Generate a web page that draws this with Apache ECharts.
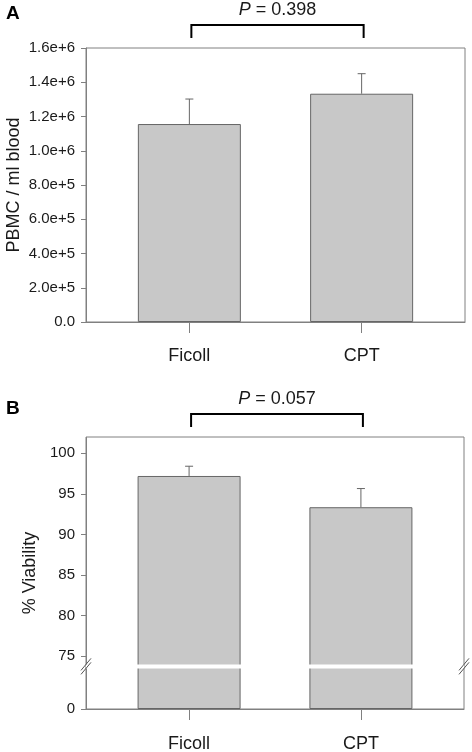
<!DOCTYPE html>
<html><head><meta charset="utf-8">
<script src="https://cdn.jsdelivr.net/npm/echarts@6/dist/echarts.min.js"></script>
<style>html,body{margin:0;padding:0;background:#fff}#c{width:472px;height:752px}</style>
</head><body><div id="c"></div>
<script>
const categories = ['Ficoll', 'CPT'];
const categoryPos = [1, 2];
const pbmcMean = [1156000, 1333000];
const pbmcSE = [146000, 117000];
const viabilityMean = [97.2, 93.35];
const viabilitySE = [1.2, 2.3];
const pValues = ['0.398', '0.057'];
const pbmcTicks = [0, 200000, 400000, 600000, 800000, 1000000, 1200000, 1400000, 1600000];
const viabilityTicks = [0, 75, 80, 85, 90, 95, 100];
const viabilityBreak = [5, 74];
const panelLabels = ['A', 'B'];
const yTitles = ['PBMC / ml blood', '% Viability'];
const yMaxes = [1600000, 102];

const FONT = 'Liberation Sans, Arial, Helvetica, sans-serif';
const AXIS = '#808080';
const BAR_EDGE = '#666666';
const TXT = '#1a1a1a';

const chart = echarts.init(document.getElementById('c'), null, {renderer: 'canvas'});

function xAxisCfg(gi, margin) {
  return {
    type: 'value', gridIndex: gi, min: 0.4, max: 2.6,
    axisLine: {show: true, lineStyle: {color: AXIS, width: 1}},
    axisTick: {show: true, customValues: categoryPos, length: 11, lineStyle: {color: AXIS}},
    axisLabel: {customValues: categoryPos, margin: margin, color: TXT, fontSize: 18, fontFamily: FONT,
      formatter: v => categories[categoryPos.indexOf(Math.round(v))] || ''},
    splitLine: {show: false}
  };
}

function errRender(params, api) {
  const x = api.value(0);
  const b = api.coord([x, api.value(1)]);
  const t = api.coord([x, api.value(2)]);
  const st = {stroke: BAR_EDGE, lineWidth: 1};
  return {type: 'group', children: [
    {type: 'line', shape: {x1: b[0], y1: b[1], x2: t[0], y2: t[1]}, style: st},
    {type: 'line', shape: {x1: t[0] - 4, y1: t[1], x2: t[0] + 4, y2: t[1]}, style: st}
  ]};
}

function bracketRender(pi) {
  return function (params, api) {
    const l = api.coord([categoryPos[0], yMaxes[pi]]);
    const r = api.coord([categoryPos[1], yMaxes[pi]]);
    const top = l[1];
    const lx = l[0] + 2, rx = r[0] + 2;
    return {type: 'group', children: [
      {type: 'polyline', shape: {points: [[lx, top - 10], [lx, top - 23], [rx, top - 23], [rx, top - 10]]},
        style: {stroke: '#000', lineWidth: 2, fill: null}},
      {type: 'text', style: {
        text: '{i|P}{n| = ' + pValues[pi] + '}', x: (lx + rx) / 2, y: top - 38,
        align: 'center', verticalAlign: 'middle', fill: TXT, fontSize: 18, fontFamily: FONT,
        rich: {i: {fontStyle: 'italic', fontSize: 18, fontFamily: FONT, fill: TXT},
               n: {fontSize: 18, fontFamily: FONT, fill: TXT}}
      }}
    ]};
  };
}

const option = {
  animation: false,
  backgroundColor: '#fff',
  title: [
    {text: panelLabels[0], left: 6, top: 4, padding: 0, textStyle: {fontSize: 19, fontWeight: 'bold', color: '#000', fontFamily: FONT}},
    {text: panelLabels[1], left: 6, top: 399, padding: 0, textStyle: {fontSize: 19, fontWeight: 'bold', color: '#000', fontFamily: FONT}}
  ],
  grid: [
    {left: 86, top: 48, width: 379, height: 274, show: true, borderColor: AXIS, borderWidth: 1,
      backgroundColor: 'transparent', containLabel: false, outerBoundsMode: 'none'},
    {left: 86, top: 437, width: 378, height: 272, show: true, borderColor: AXIS, borderWidth: 1,
      backgroundColor: 'transparent', containLabel: false, outerBoundsMode: 'none'}
  ],
  xAxis: [xAxisCfg(0, 25), xAxisCfg(1, 26)],
  yAxis: [
    {type: 'value', gridIndex: 0, min: 0, max: yMaxes[0], interval: 200000,
      name: yTitles[0], nameLocation: 'middle', nameGap: 63, nameMoveOverlap: false,
      nameTextStyle: {fontSize: 18, color: TXT, fontFamily: FONT},
      axisLine: {show: true, lineStyle: {color: AXIS}},
      axisTick: {show: true, length: 5, lineStyle: {color: AXIS}},
      axisLabel: {margin: 11, color: TXT, fontSize: 15, fontFamily: FONT,
        formatter: v => v === 0 ? '0.0' : v.toExponential(1)},
      splitLine: {show: false}},
    {type: 'value', gridIndex: 1, min: 0, max: yMaxes[1],
      breaks: [{start: viabilityBreak[0], end: viabilityBreak[1], gap: 0.5}],
      breakArea: {show: true, zigzagAmplitude: 0, zigzagZ: 100,
        itemStyle: {color: '#fff', borderColor: '#fff', borderWidth: 0, opacity: 1}, expandOnClick: false},
      name: yTitles[1], nameLocation: 'middle', nameGap: 47, nameMoveOverlap: false,
      nameTextStyle: {fontSize: 18, color: TXT, fontFamily: FONT},
      axisLine: {show: true, lineStyle: {color: AXIS}},
      axisTick: {show: true, length: 5, customValues: viabilityTicks, lineStyle: {color: AXIS}},
      axisLabel: {margin: 11, color: TXT, fontSize: 15, fontFamily: FONT, customValues: viabilityTicks},
      splitLine: {show: false}}
  ],
  series: [
    {type: 'bar', xAxisIndex: 0, yAxisIndex: 0, barWidth: 103,
      data: categoryPos.map((x, i) => [x, pbmcMean[i]]),
      itemStyle: {color: '#c8c8c8', borderColor: BAR_EDGE, borderWidth: 1}},
    {type: 'custom', xAxisIndex: 0, yAxisIndex: 0, renderItem: errRender, clip: false, z: 3,
      data: categoryPos.map((x, i) => [x, pbmcMean[i], pbmcMean[i] + pbmcSE[i]])},
    {type: 'custom', xAxisIndex: 0, yAxisIndex: 0, renderItem: bracketRender(0), clip: false, z: 3,
      data: [[categoryPos[0], yMaxes[0]]]},
    {type: 'bar', xAxisIndex: 1, yAxisIndex: 1, barWidth: 103,
      data: categoryPos.map((x, i) => [x, viabilityMean[i]]),
      itemStyle: {color: '#c8c8c8', borderColor: BAR_EDGE, borderWidth: 1}},
    {type: 'custom', xAxisIndex: 1, yAxisIndex: 1, renderItem: errRender, clip: false, z: 3,
      data: categoryPos.map((x, i) => [x, viabilityMean[i], viabilityMean[i] + viabilitySE[i]])},
    {type: 'custom', xAxisIndex: 1, yAxisIndex: 1, renderItem: bracketRender(1), clip: false, z: 3,
      data: [[categoryPos[0], yMaxes[1]]]}
  ]
};
chart.setOption(option);

// axis-break "//" marks on the left and right frame of panel B
const yb0 = chart.convertToPixel({yAxisIndex: 1}, viabilityBreak[0]);
const yb1 = chart.convertToPixel({yAxisIndex: 1}, viabilityBreak[1]);
const ym = (yb0 + yb1) / 2;
const xl = chart.convertToPixel({xAxisIndex: 1}, 0.4);
const xr = chart.convertToPixel({xAxisIndex: 1}, 2.6);
const marks = [];
[xl, xr].forEach(x => {
  [-2, 2].forEach(d => {
    marks.push({type: 'line', z: 200, shape: {x1: x - 5, y1: ym + 6 + d, x2: x + 5, y2: ym - 6 + d},
      style: {stroke: '#555', lineWidth: 1}});
  });
});
chart.setOption({graphic: marks});
</script></body></html>
